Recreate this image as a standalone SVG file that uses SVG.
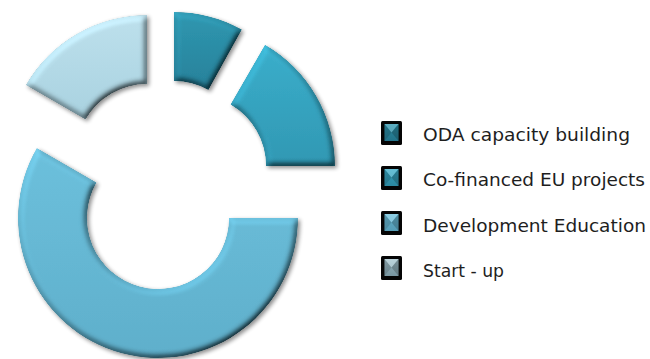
<svg xmlns="http://www.w3.org/2000/svg" width="650" height="359" viewBox="0 0 650 359">
  <defs>
    <filter id="bevel" x="-10%" y="-10%" width="125%" height="125%">
      <feGaussianBlur in="SourceAlpha" stdDeviation="3" result="blur"/>
      <feDiffuseLighting in="blur" surfaceScale="5" diffuseConstant="1" lighting-color="#ffffff" result="diff">
        <feDistantLight azimuth="235" elevation="55"/>
      </feDiffuseLighting>
      <feComposite in="SourceGraphic" in2="diff" operator="arithmetic" k1="1.22" k2="0" k3="0" k4="0" result="lit"/>
      <feComposite in="lit" in2="SourceAlpha" operator="in" result="litIn"/>
      <feGaussianBlur in="SourceAlpha" stdDeviation="2" result="sblur"/>
      <feOffset in="sblur" dx="1.5" dy="2" result="soff"/>
      <feComponentTransfer in="soff" result="shadow">
        <feFuncA type="linear" slope="0.45"/>
      </feComponentTransfer>
      <feMerge>
        <feMergeNode in="shadow"/>
        <feMergeNode in="litIn"/>
      </feMerge>
    </filter>
    <linearGradient id="gOda" x1="0" y1="0" x2="0" y2="1">
      <stop offset="0" stop-color="#2f97b0"/>
      <stop offset="1" stop-color="#27819a"/>
    </linearGradient>
    <linearGradient id="gCo" x1="0" y1="0" x2="0" y2="1">
      <stop offset="0" stop-color="#3aaecb"/>
      <stop offset="1" stop-color="#3198b3"/>
    </linearGradient>
    <linearGradient id="gDev" x1="0" y1="0" x2="0" y2="1">
      <stop offset="0" stop-color="#6cc0dc"/>
      <stop offset="1" stop-color="#5fafcb"/>
    </linearGradient>
    <linearGradient id="gStart" x1="0" y1="0" x2="0" y2="1">
      <stop offset="0" stop-color="#bde0ec"/>
      <stop offset="1" stop-color="#a9d2e0"/>
    </linearGradient>
    <linearGradient id="gStartSq" x1="0" y1="0" x2="0" y2="1">
      <stop offset="0" stop-color="#a7c6d0"/>
      <stop offset="1" stop-color="#86a8b4"/>
    </linearGradient>
    <g id="sqshade">
      <path d="M0,0 L14,0 L7,8.5 Z" fill="#ffffff" fill-opacity="0.22"/>
      <path d="M0,0 L7,8.5 L0,17 Z" fill="#000000" fill-opacity="0.22"/>
      <path d="M14,0 L7,8.5 L14,17 Z" fill="#000000" fill-opacity="0.28"/>
      <path d="M0,17 L7,8.5 L14,17 Z" fill="#000000" fill-opacity="0.1"/>
    </g>
  </defs>
  <style>
    .seg { filter: url(#bevel); }
    .lbl { font-family: "DejaVu Sans", "Liberation Sans", sans-serif; font-size: 17px; fill: #1e1e1e; }
    .sqo { fill: #050505; }
  </style>
  <rect width="650" height="359" fill="#ffffff"/>

  <g id="seg-oda" class="seg">
    <path d="M174,12 A140,140 0 0 1 241.9,29.6 L208.4,89.9 A71,71 0 0 0 174,81 Z" fill="url(#gOda)"/>
  </g>
  <g id="seg-cofin" class="seg">
    <path d="M265,44.8 A140,140 0 0 1 335,166 L266,166 A71,71 0 0 0 230.5,104.5 Z" fill="url(#gCo)"/>
  </g>
  <g id="seg-deved" class="seg">
    <path d="M298,218 A140,140 0 1 1 36.8,148 L96.5,182.5 A71,71 0 1 0 229,218 Z" fill="url(#gDev)"/>
  </g>
  <g id="seg-startup" class="seg">
    <path d="M25.8,85 A140,140 0 0 1 147,15 L147,84 A71,71 0 0 0 85.5,119.5 Z" fill="url(#gStart)"/>
  </g>

  <g id="legend-oda">
    <rect class="sqo" x="381" y="121" width="21" height="24" rx="1.5"/>
    <rect x="384.5" y="124" width="14" height="17" fill="url(#gOda)"/>
    <use href="#sqshade" x="384.5" y="124"/>
    <text class="lbl" x="423" y="141.3" textLength="207" lengthAdjust="spacingAndGlyphs">ODA capacity building</text>
  </g>
  <g id="legend-cofin">
    <rect class="sqo" x="381" y="166" width="21" height="24" rx="1.5"/>
    <rect x="384.5" y="169" width="14" height="17" fill="url(#gCo)"/>
    <use href="#sqshade" x="384.5" y="169"/>
    <text class="lbl" x="423" y="186.4" textLength="222" lengthAdjust="spacingAndGlyphs">Co-financed EU projects</text>
  </g>
  <g id="legend-deved">
    <rect class="sqo" x="381" y="211" width="21" height="24" rx="1.5"/>
    <rect x="384.5" y="214" width="14" height="17" fill="url(#gDev)"/>
    <use href="#sqshade" x="384.5" y="214"/>
    <text class="lbl" x="423" y="231.5" textLength="223" lengthAdjust="spacingAndGlyphs">Development Education</text>
  </g>
  <g id="legend-startup">
    <rect class="sqo" x="381" y="256" width="21" height="24" rx="1.5"/>
    <rect x="384.5" y="259" width="14" height="17" fill="url(#gStartSq)"/>
    <use href="#sqshade" x="384.5" y="259"/>
    <text class="lbl" x="423" y="276.6" textLength="81" lengthAdjust="spacingAndGlyphs">Start - up</text>
  </g>
</svg>
